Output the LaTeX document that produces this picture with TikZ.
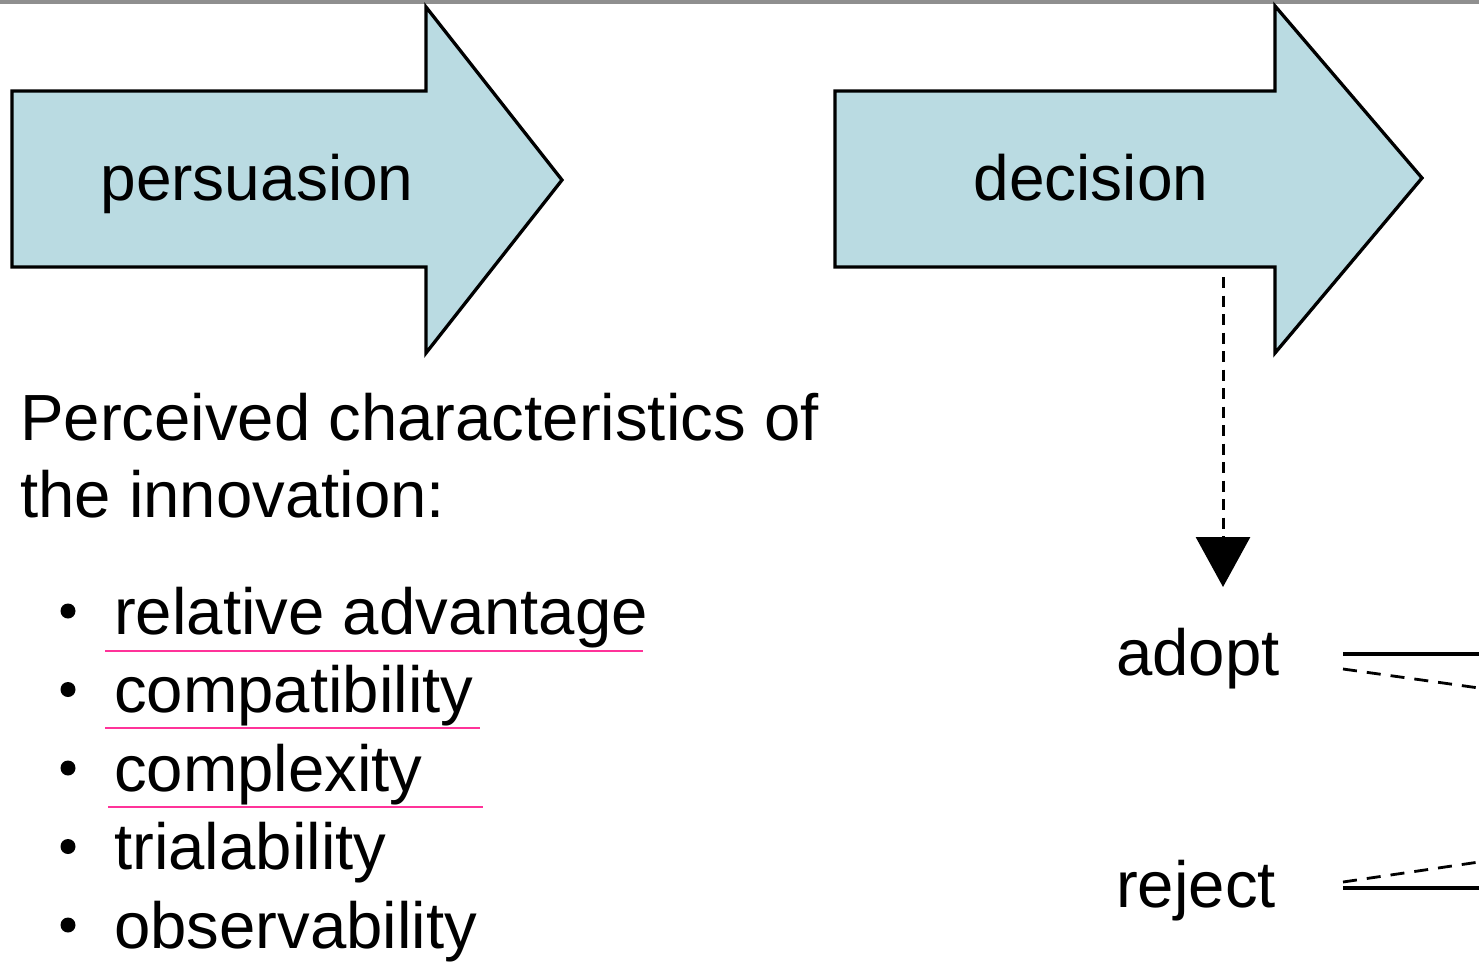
\documentclass[tikz,border=0pt]{standalone}
\usepackage{fontspec}
\setmainfont{Liberation Sans}
\usetikzlibrary{arrows.meta}
\definecolor{stagefill}{RGB}{186,219,226}
\definecolor{topbar}{RGB}{143,143,143}
\definecolor{markpink}{RGB}{255,51,153}
\begin{document}
\begin{tikzpicture}[x=1pt,y=-1pt,
  stage/.style={draw=black,fill=stagefill,line width=3.3pt,line join=miter},
  label/.style={inner sep=0pt,font=\fontsize{64}{77}\selectfont},
  item/.style={inner sep=0pt,font=\fontsize{65.3}{78}\selectfont,anchor=base west},
  bulletdot/.style={circle,fill=black,inner sep=0pt,minimum size=15pt},
  pinkline/.style={draw=markpink,line width=2.4pt},
  flow/.style={line width=3pt,dash pattern=on 11pt off 7.5pt,-{Triangle[length=50pt,width=54pt]}},
  solidend/.style={line width=3.2pt},
  dashend/.style={line width=2.8pt,dash pattern=on 14pt off 10pt}]
\useasboundingbox (0,0) rectangle (1479,976);
\fill[topbar] (0,0) rectangle (1479,4.5);

% stage arrows
\draw[stage] (12,91) -- (426,91) -- (426,7) -- (562,180) -- (426,353) -- (426,267) -- (12,267) -- cycle;
\draw[stage] (835,91) -- (1275,91) -- (1275,6) -- (1422,178) -- (1275,353) -- (1275,267) -- (835,267) -- cycle;
\node[label,anchor=base] (persuasion) at (257,201) {persuasion};
\node[label,anchor=base] (decision) at (1091,201) {decision};

% characteristics
\node[item] (head1) at (20,440) {Perceived characteristics of};
\node[item] (head2) at (20,517) {the innovation:};

\node[item] (c1) at (114,634) {relative advantage};
\node[item] (c2) at (114,712.5) {compatibility};
\node[item] (c3) at (114,791) {complexity};
\node[item] (c4) at (114,869.5) {trialability};
\node[item] (c5) at (114,948) {observability};
\foreach \i/\y in {1/634,2/712.5,3/791,4/869.5,5/948}
  \node[bulletdot] (b\i) at (68,\y-23) {};

\draw[pinkline] (105,651) -- (643,651);
\draw[pinkline] (105,728) -- (480,728);
\draw[pinkline] (108,807) -- (483,807);

% decision outcomes
\node[item] (adopt) at (1116,675) {adopt};
\node[item] (reject) at (1116,907) {reject};
\coordinate (dtop) at (1223,277);
\coordinate (dbot) at (1223,587);
\draw[flow] (dtop) -- (dbot);

\coordinate (a1) at (1343,654);
\coordinate (a1e) at (1479,654);
\coordinate (a2) at (1343,669);
\coordinate (a2e) at (1479,688);
\coordinate (r1) at (1343,882);
\coordinate (r1e) at (1479,862);
\coordinate (r2) at (1343,888);
\coordinate (r2e) at (1479,888);
\draw[solidend] (a1) -- (a1e);
\draw[dashend] (a2) -- (a2e);
\draw[dashend] (r1) -- (r1e);
\draw[solidend] (r2) -- (r2e);
\end{tikzpicture}
\end{document}
